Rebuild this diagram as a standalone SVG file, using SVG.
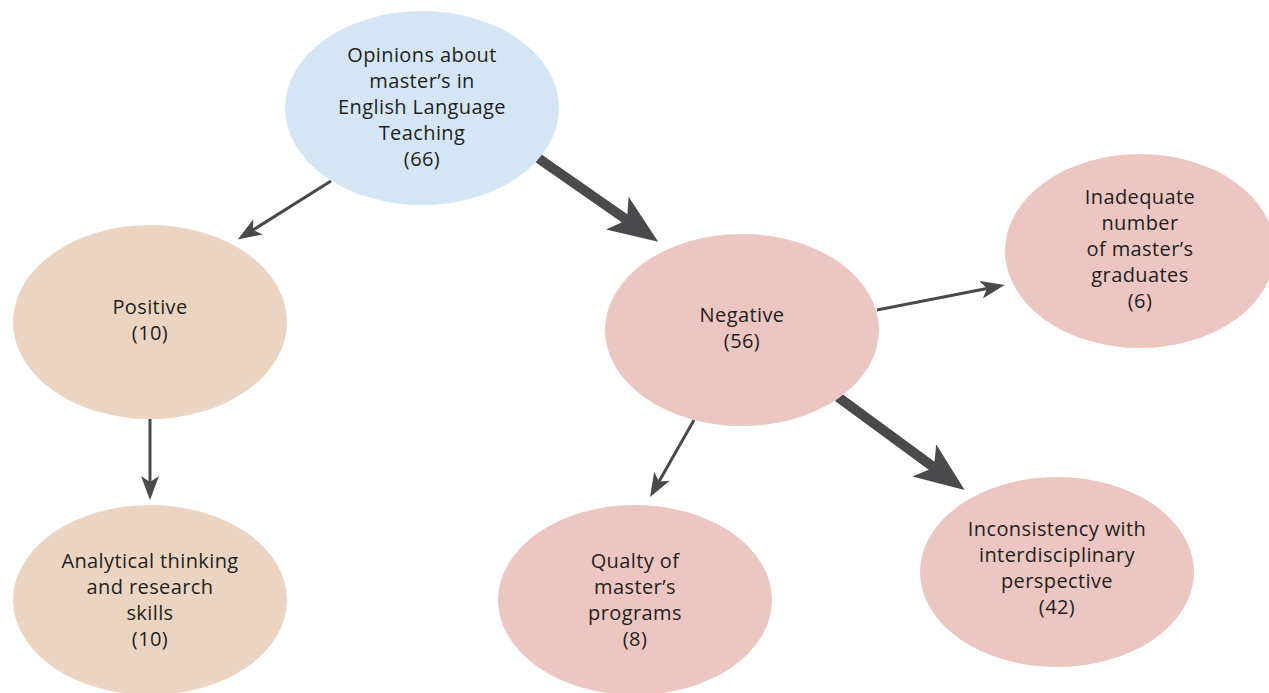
<svg xmlns="http://www.w3.org/2000/svg" width="1269" height="693" viewBox="0 0 1269 693">
<style>
.blue{fill:#d4e6f5}
.tan{fill:#ebd5c2}
.pink{fill:#ecc6c1}
text{font-family:"Open Sans","Noto Sans",sans-serif;font-size:20px;letter-spacing:0.4px;fill:#231f20;text-anchor:middle}
.thin{stroke:#4a4a4c;stroke-width:3;fill:none}
.thick{stroke:#4a4a4c;stroke-width:10;fill:none}
</style>
<defs>
<marker id="hs" viewBox="0 0 24 18" refX="6" refY="9" markerWidth="24" markerHeight="18" markerUnits="userSpaceOnUse" orient="auto">
<path d="M0,0 L24,9 L0,18 L6,9 z" fill="#4a4a4c"/>
</marker>
<marker id="hl" viewBox="0 0 50 40" refX="12" refY="20" markerWidth="50" markerHeight="40" markerUnits="userSpaceOnUse" orient="auto">
<path d="M0,0 L50,20 L0,40 L12,20 z" fill="#4a4a4c"/>
</marker>
</defs>
<rect width="1269" height="693" fill="#fff"/>
<g id="connectors">
<line class="thin" x1="331" y1="181" x2="253" y2="230" marker-end="url(#hs)"/>
<line class="thick" x1="538" y1="158" x2="627" y2="220" marker-end="url(#hl)"/>
<line class="thin" x1="150" y1="418" x2="150" y2="482" marker-end="url(#hs)"/>
<line class="thin" x1="877" y1="310" x2="987" y2="288.5" marker-end="url(#hs)"/>
<line class="thin" x1="694" y1="420" x2="659" y2="481.4" marker-end="url(#hs)"/>
<line class="thick" x1="838" y1="397" x2="934" y2="467.5" marker-end="url(#hl)"/>
</g>
<g id="n-root">
<ellipse class="blue" cx="422" cy="108" rx="137" ry="97"/>
<text x="422" y="62">Opinions about</text>
<text x="422" y="88">master’s in</text>
<text x="422" y="114">English Language</text>
<text x="422" y="140">Teaching</text>
<text x="422" y="166">(66)</text>
</g>
<g id="n-positive">
<ellipse class="tan" cx="150" cy="322" rx="137" ry="97"/>
<text x="150" y="314">Positive</text>
<text x="150" y="340">(10)</text>
</g>
<g id="n-analytical">
<ellipse class="tan" cx="150" cy="600" rx="137" ry="95"/>
<text x="150" y="568">Analytical thinking</text>
<text x="150" y="594">and research</text>
<text x="150" y="620">skills</text>
<text x="150" y="646">(10)</text>
</g>
<g id="n-negative">
<ellipse class="pink" cx="742" cy="330" rx="137" ry="96"/>
<text x="742" y="322">Negative</text>
<text x="742" y="348">(56)</text>
</g>
<g id="n-inadequate">
<ellipse class="pink" cx="1140" cy="251" rx="135" ry="97"/>
<text x="1140" y="204">Inadequate</text>
<text x="1140" y="230">number</text>
<text x="1140" y="256">of master’s</text>
<text x="1140" y="282">graduates</text>
<text x="1140" y="308">(6)</text>
</g>
<g id="n-quality">
<ellipse class="pink" cx="635" cy="600" rx="137" ry="95"/>
<text x="635" y="568">Qualty of</text>
<text x="635" y="594">master’s</text>
<text x="635" y="620">programs</text>
<text x="635" y="646">(8)</text>
</g>
<g id="n-inconsistency">
<ellipse class="pink" cx="1057" cy="572" rx="137" ry="95"/>
<text x="1057" y="536">Inconsistency with</text>
<text x="1057" y="562">interdisciplinary</text>
<text x="1057" y="588">perspective</text>
<text x="1057" y="614">(42)</text>
</g>
</svg>
